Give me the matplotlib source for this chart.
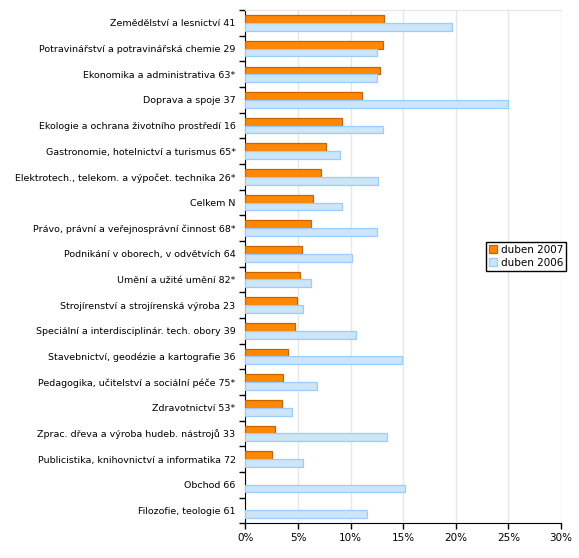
import matplotlib
matplotlib.use("Agg")
import matplotlib.pyplot as plt
import numpy as np
from matplotlib.ticker import FuncFormatter

categories = [
    "Zemědělství a lesnictví 41",
    "Potravinářství a potravinářská chemie 29",
    "Ekonomika a administrativa 63*",
    "Doprava a spoje 37",
    "Ekologie a ochrana životního prostředí 16",
    "Gastronomie, hotelnictví a turismus 65*",
    "Elektrotech., telekom. a výpočet. technika 26*",
    "Celkem N",
    "Právo, právní a veřejnosprávní činnost 68*",
    "Podnikání v oborech, v odvětvích 64",
    "Umění a užité umění 82*",
    "Strojírenství a strojírenská výroba 23",
    "Speciální a interdisciplinár. tech. obory 39",
    "Stavebnictví, geodézie a kartografie 36",
    "Pedagogika, učitelství a sociální péče 75*",
    "Zdravotnictví 53*",
    "Zprac. dřeva a výroba hudeb. nástrojů 33",
    "Publicistika, knihovnictví a informatika 72",
    "Obchod 66",
    "Filozofie, teologie 61",
]
duben_2007 = [13.2, 13.05, 12.75, 11.05, 9.15, 7.65, 7.15, 6.45, 6.2, 5.35,
              5.15, 4.9, 4.7, 4.05, 3.55, 3.45, 2.8, 2.5, 0.0, 0.0]
duben_2006 = [19.6, 12.5, 12.55, 25.0, 13.1, 8.95, 12.6, 9.15, 12.5, 10.1,
              6.2, 5.5, 10.5, 14.85, 6.85, 4.4, 13.5, 5.45, 15.15, 11.55]
series_names = ["duben 2007", "duben 2006"]
x_ticks = [0, 5, 10, 15, 20, 25, 30]

fig = plt.figure(figsize=(5.79, 5.58), dpi=100)
ax = fig.add_axes([0.4237, 0.0622, 0.5453, 0.9198])

n = len(categories)
y = np.arange(n)
h = 0.3
b1 = ax.barh(y - h / 2, duben_2007, height=h, color="#FF8800", edgecolor="#C86400",
             linewidth=0.9, label=series_names[0], zorder=3)
b2 = ax.barh(y + h / 2, duben_2006, height=h, color="#CCE5F7", edgecolor="#99CCFF",
             linewidth=0.9, label=series_names[1], zorder=3)
for bars, vals in ((b1, duben_2007), (b2, duben_2006)):
    for r, v in zip(bars, vals):
        if v == 0:
            r.set_visible(False)

ax.set_ylim(n - 0.5, -0.5)
ax.set_xlim(0, 30)
ax.set_yticks(y)
ax.set_yticklabels(categories, fontsize=6.8)
ax.set_yticks(np.arange(n + 1) - 0.5, minor=True)
ax.tick_params(axis="y", which="major", length=0, pad=7)
ax.tick_params(axis="y", which="minor", length=4, width=1, color="black")
ax.set_xticks(x_ticks)
ax.xaxis.set_major_formatter(FuncFormatter(lambda v, p: f"{v:.0f}%"))
ax.tick_params(axis="x", labelsize=7.5, length=4, width=1, pad=3)

ax.grid(axis="x", color="#E6E6E6", linewidth=1, zorder=0)
ax.set_axisbelow(True)
ax.spines["top"].set_color("#E6E6E6")
ax.spines["right"].set_visible(False)
ax.spines["left"].set_color("black")
ax.spines["bottom"].set_color("black")

leg = ax.legend(loc="upper right", bbox_to_anchor=(1.016, 0.549), fontsize=7.5,
                frameon=True, fancybox=False, edgecolor="black", framealpha=1,
                handlelength=0.8, handleheight=0.8, handletextpad=0.3,
                borderpad=0.3, labelspacing=0.3, borderaxespad=0)
leg.get_frame().set_linewidth(1)

fig.savefig("out.png", dpi=100)
